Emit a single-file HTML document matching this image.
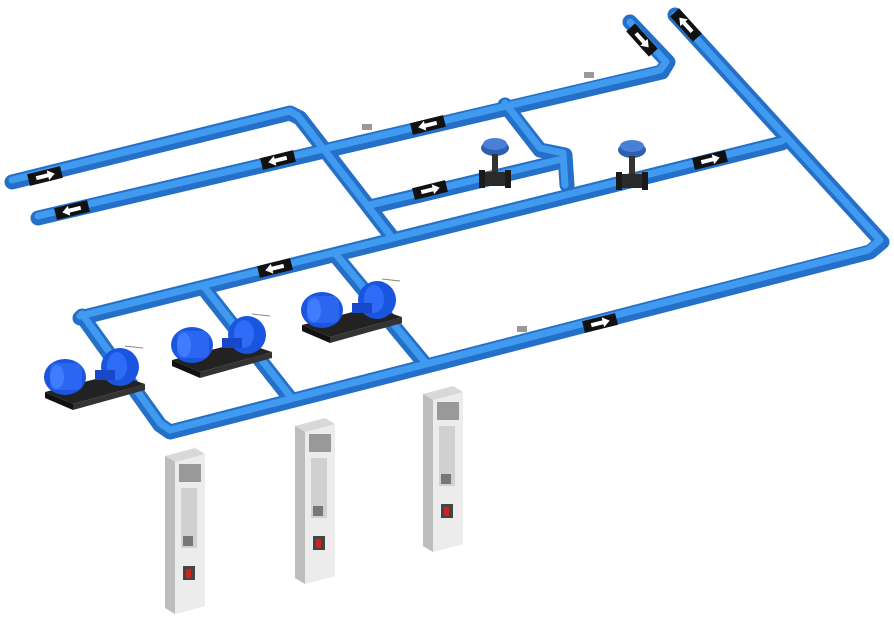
<!DOCTYPE html>
<html><head><meta charset="utf-8"><style>
html,body{margin:0;padding:0;background:#fff;}
svg{display:block}
</style></head><body>
<svg width="894" height="619" viewBox="0 0 894 619" xmlns="http://www.w3.org/2000/svg">
<defs>
<g id="arr"><rect x="-17" y="-6" width="34" height="12" fill="#111"/><path d="M-9,-2 H3 V-5 L10,0 L3,5 V2 H-9 Z" fill="#fff"/></g>
<g id="pump">
<polygon points="0,40 70,22 100,32 28,52" fill="#222"/>
<polygon points="0,40 28,52 28,58 0,46" fill="#111"/>
<polygon points="28,52 100,32 100,38 28,58" fill="#333"/>
<ellipse cx="20" cy="25" rx="21" ry="18" fill="#1a55e0"/>
<rect x="5" y="11" width="32" height="27" rx="6" fill="#2a66f0"/>
<ellipse cx="12" cy="25" rx="7" ry="12" fill="#3f7cff"/>
<ellipse cx="75" cy="15" rx="19" ry="19" fill="#1a55e0"/>
<ellipse cx="72" cy="14" rx="10" ry="14" fill="#2f6cf5"/>
<rect x="50" y="18" width="20" height="10" fill="#1848c8"/>
<line x1="80" y1="-6" x2="98" y2="-4" stroke="#888" stroke-width="1"/>
</g>
<g id="drive">
<polygon points="0,8 30,0 40,6 40,158 10,166 0,160" fill="#d8d8d8"/>
<polygon points="0,8 10,14 10,166 0,160" fill="#bdbdbd"/>
<polygon points="10,14 40,6 40,158 10,166" fill="#ececec"/>
<rect x="14" y="16" width="22" height="18" fill="#999"/>
<rect x="16" y="40" width="16" height="60" fill="#d0d0d0"/>
<rect x="18" y="88" width="10" height="10" fill="#777"/>
<rect x="18" y="118" width="12" height="14" fill="#444"/>
<rect x="21" y="121" width="5" height="9" fill="#c22"/>
</g>
<g id="valve">
<ellipse cx="0" cy="-10" rx="14" ry="8" fill="#2f5fb0"/>
<ellipse cx="0" cy="-14" rx="12" ry="6" fill="#4a7fd8"/>
<rect x="-3" y="-4" width="6" height="20" fill="#333"/>
<rect x="-12" y="14" width="24" height="14" rx="3" fill="#2a2a2a"/>
<rect x="-16" y="12" width="6" height="18" fill="#1a1a1a"/>
<rect x="10" y="12" width="6" height="18" fill="#1a1a1a"/>
</g>
</defs>
<g fill="none" stroke-linecap="round" stroke-linejoin="round">
<g stroke="#2470c8" stroke-width="15">
<polyline points="12,182 290,113 300,118 392,237"/>
<polyline points="38,218 662,72 668,62 630,22"/>
<polyline points="505,105 540,150 565,155 567,185"/>
<polyline points="370,207 558,162"/>
<polyline points="80,318 782,143"/>
<polyline points="675,15 882,242 870,252 170,432 160,425 82,316"/>
<polyline points="205,290 290,398"/>
<polyline points="335,255 425,364"/>
</g>
<g stroke="#3f9af0" stroke-width="7">
<polyline points="12,180 290,111 298,116 390,235"/>
<polyline points="38,216 660,70 666,62 630,22"/>
<polyline points="505,103 540,148 563,153 565,185"/>
<polyline points="370,205 558,160"/>
<polyline points="80,316 782,141"/>
<polyline points="675,15 880,240 868,250 170,430 160,423 82,314"/>
<polyline points="205,288 290,396"/>
<polyline points="335,253 425,362"/>
</g>
</g>
<use href="#arr" transform="translate(45,176) rotate(-14)"/>
<use href="#arr" transform="translate(72,210) rotate(-14) scale(-1,1)"/>
<use href="#arr" transform="translate(278,160) rotate(-14) scale(-1,1)"/>
<use href="#arr" transform="translate(428,125) rotate(-14) scale(-1,1)"/>
<use href="#arr" transform="translate(430,190) rotate(-14)"/>
<use href="#arr" transform="translate(275,268) rotate(-14) scale(-1,1)"/>
<use href="#arr" transform="translate(710,160) rotate(-14)"/>
<use href="#arr" transform="translate(600,323) rotate(-14)"/>
<use href="#arr" transform="translate(642,40) rotate(48)"/>
<use href="#arr" transform="translate(686,25) rotate(-132)"/>
<rect x="362" y="124" width="10" height="6" fill="#999"/>
<rect x="584" y="72" width="10" height="6" fill="#999"/>
<rect x="517" y="326" width="10" height="6" fill="#999"/>
<use href="#valve" transform="translate(495,158)"/>
<use href="#valve" transform="translate(632,160)"/>
<use href="#pump" transform="translate(45,352)"/>
<use href="#pump" transform="translate(172,320)"/>
<use href="#pump" transform="translate(302,285)"/>
<use href="#drive" transform="translate(165,448)"/>
<use href="#drive" transform="translate(295,418)"/>
<use href="#drive" transform="translate(423,386)"/>
</svg>
</body></html>
